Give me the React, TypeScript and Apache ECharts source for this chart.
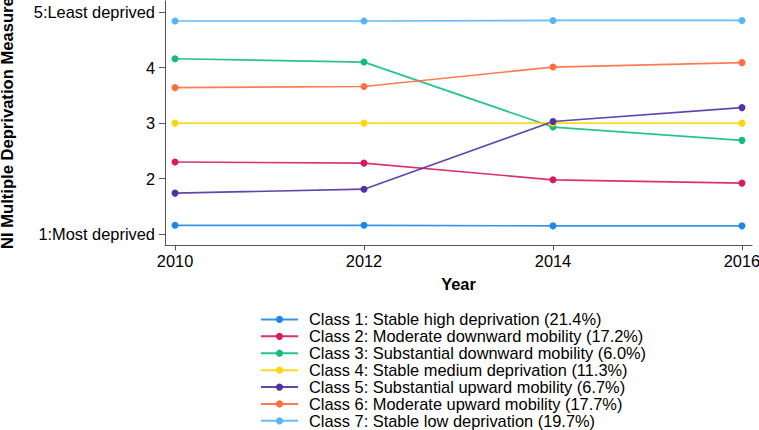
import React, { useEffect, useRef } from "react";
import * as echarts from "echarts";

// Survey waves and mean NI Multiple Deprivation Measure quintile per latent class
const years = [2010, 2012, 2014, 2016];
const classNames = [
  "Class 1: Stable high deprivation (21.4%)",
  "Class 2: Moderate downward mobility (17.2%)",
  "Class 3: Substantial downward mobility (6.0%)",
  "Class 4: Stable medium deprivation (11.3%)",
  "Class 5: Substantial upward mobility (6.7%)",
  "Class 6: Moderate upward mobility (17.7%)",
  "Class 7: Stable low deprivation (19.7%)",
];
const class1 = [1.16, 1.16, 1.15, 1.15];
const class2 = [2.3, 2.28, 1.98, 1.92];
const class3 = [4.16, 4.1, 2.93, 2.69];
const class4 = [3.0, 3.0, 3.0, 3.0];
const class5 = [1.74, 1.81, 3.03, 3.28];
const class6 = [3.64, 3.66, 4.01, 4.09];
const class7 = [4.84, 4.84, 4.85, 4.85];
const classValues = [class1, class2, class3, class4, class5, class6, class7];
const classColors = ["#1E88E5", "#D81B60", "#12BC80", "#FFD60A", "#5230A6", "#FF6E40", "#56B4F9"];
const yTicks = [1, 2, 3, 4, 5];
const yTickText: Record<number, string> = { 1: "1:Most deprived", 5: "5:Least deprived" };

const FONT = "'Liberation Sans', Arial, Helvetica, sans-serif";

export default function App() {
  const ref = useRef<HTMLDivElement>(null);

  useEffect(() => {
    document.body.style.margin = "0";
    if (!ref.current) return;
    const chart = echarts.init(ref.current, null, { renderer: "svg" });

    const series = classValues.map((vals, i) => ({
      name: classNames[i],
      type: "line",
      data: vals.map((v, j) => [years[j], v]),
      symbol: "circle",
      symbolSize: 7,
      showSymbol: true,
      lineStyle: { color: classColors[i], width: 1.7, opacity: 0.9 },
      itemStyle: { color: classColors[i] },
      emphasis: { disabled: true },
    }));

    chart.setOption({
      animation: false,
      textStyle: { fontFamily: FONT, color: "#000" },
      grid: { left: 165, right: 7, top: 1, height: 244.3, outerBoundsMode: "none", containLabel: false },
      xAxis: {
        type: "value",
        min: 2009.894,
        max: 2016.106,
        name: "Year",
        nameLocation: "middle",
        nameGap: 31,
        nameTextStyle: { fontFamily: FONT, fontSize: 16.4, fontWeight: "bold", color: "#000" },
        axisLine: { show: true, lineStyle: { color: "#555", width: 1 } },
        axisTick: { show: true, length: 5, customValues: years, lineStyle: { color: "#555" } },
        axisLabel: {
          customValues: years,
          fontFamily: FONT,
          fontSize: 16.4,
          color: "#000",
          margin: 8,
          formatter: (v: number) => String(v),
        },
        splitLine: { show: false },
      },
      yAxis: {
        type: "value",
        min: 0.8,
        max: 5.2,
        name: "NI Multiple Deprivation Measure",
        nameLocation: "middle",
        nameRotate: 90,
        nameGap: 149,
        nameTextStyle: { fontFamily: FONT, fontSize: 16.6, fontWeight: "bold", color: "#000" },
        axisLine: { show: true, lineStyle: { color: "#555", width: 1 } },
        axisTick: { show: true, length: 6, customValues: yTicks, lineStyle: { color: "#555" } },
        axisLabel: {
          customValues: yTicks,
          fontFamily: FONT,
          fontSize: 16.4,
          color: "#000",
          margin: 10,
          formatter: (v: number) => yTickText[v] ?? String(v),
        },
        splitLine: { show: false },
      },
      legend: {
        orient: "vertical",
        left: 260,
        top: 311,
        height: 150,
        padding: 0,
        itemWidth: 37,
        itemHeight: 9,
        itemGap: 0,
        selectedMode: false,
        data: classNames,
        textStyle: {
          fontFamily: FONT,
          fontSize: 16.4,
          lineHeight: 16.9,
          color: "#000",
          padding: [0, 0, 0, 6],
        },
      },
      series,
    });

    return () => chart.dispose();
  }, []);

  return <div ref={ref} style={{ width: 759, height: 430 }} />;
}
